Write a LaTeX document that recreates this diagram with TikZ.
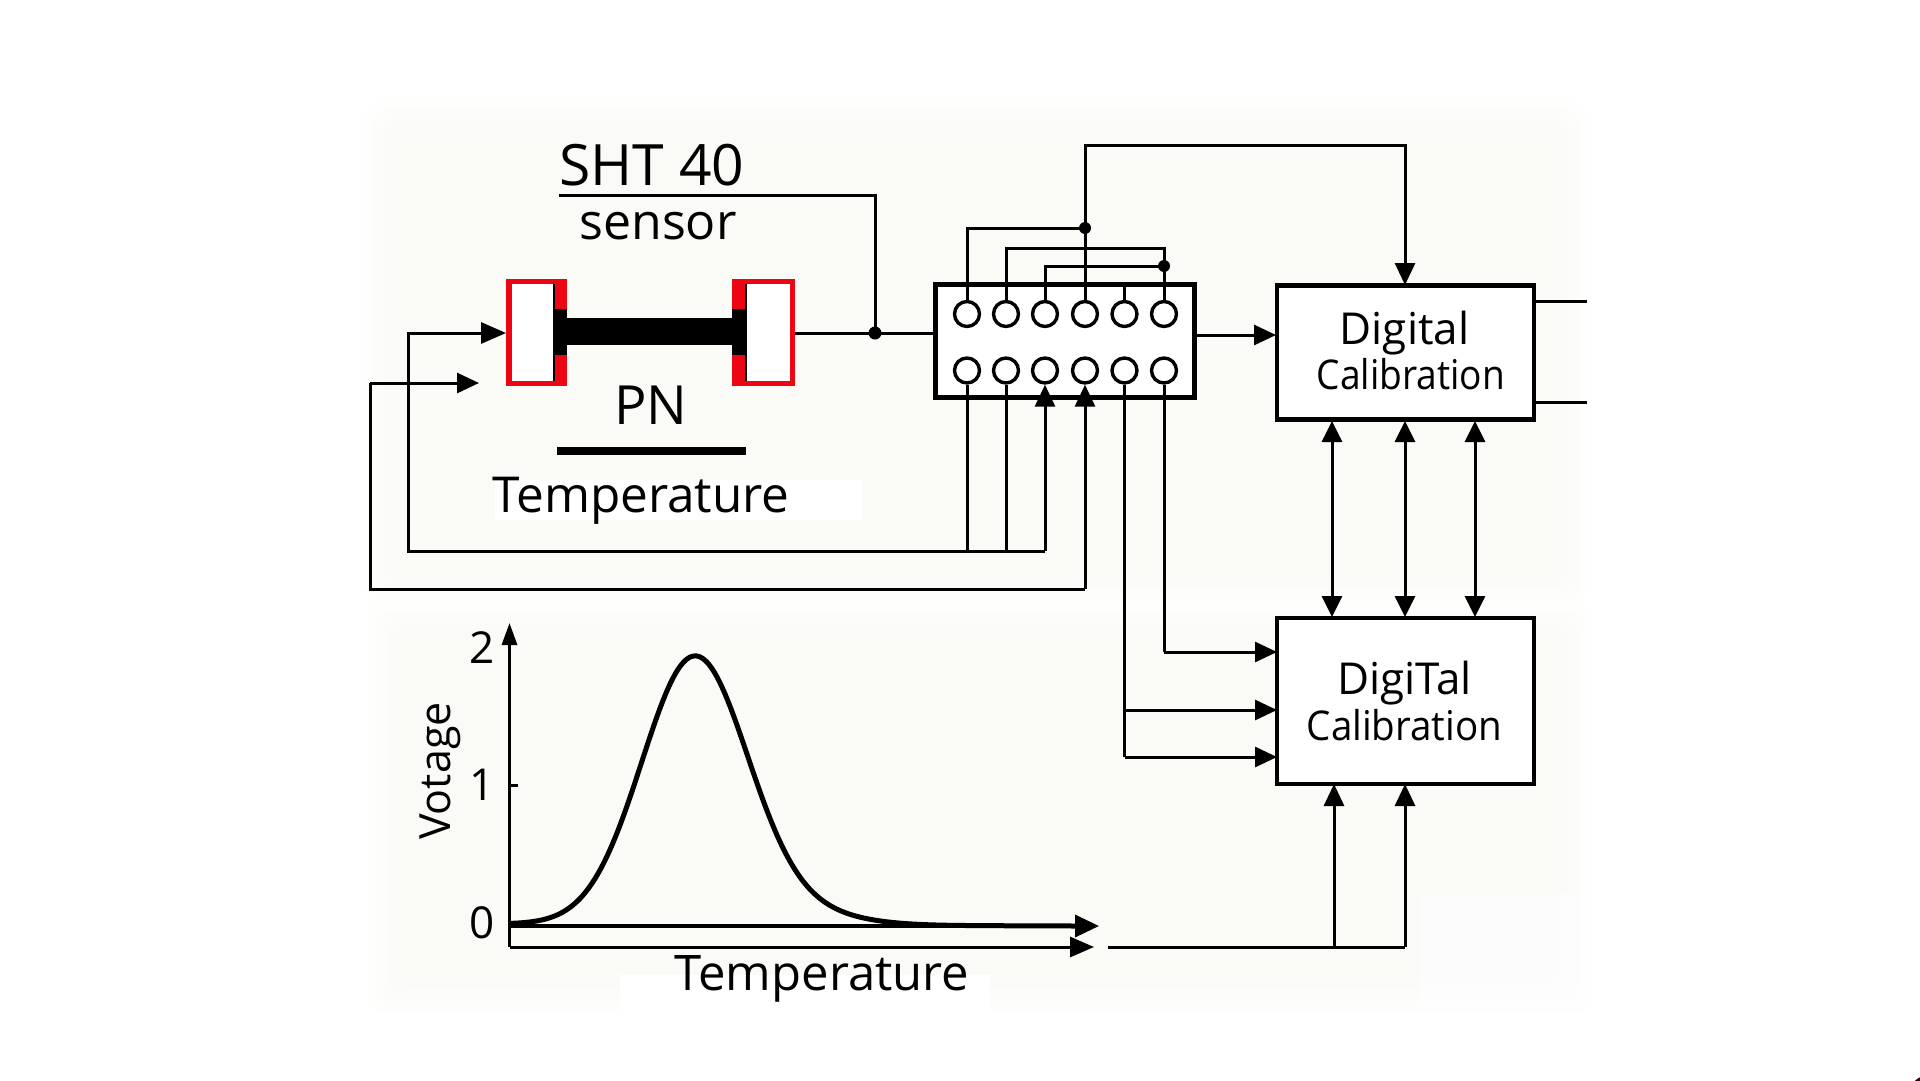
\documentclass[tikz,border=0pt]{standalone}
\usepackage{fontspec}
\usepackage{graphicx}
\setmainfont{Open Sans}
\usetikzlibrary{arrows.meta,calc}
\definecolor{sheet}{HTML}{F7F7F3}
\definecolor{padred}{HTML}{EC0512}
\tikzset{
  wire/.style={line width=3pt,black,line join=miter},
  arrowwire/.style={wire,-{Triangle[length=22pt,width=20pt]}},
  twoway/.style={wire,{Triangle[length=21pt,width=20pt]}-{Triangle[length=21pt,width=20pt]}},
  chipbox/.style={draw,line width=4.2pt,fill=white,inner sep=0pt,outer sep=0pt,rectangle},
  pin/.style={draw,line width=3.4pt,circle,fill=white,minimum size=25pt,inner sep=0pt,outer sep=1.7pt},
  junction/.style={circle,fill=black,minimum size=13pt,inner sep=0pt},
  label/.style={anchor=base,inner sep=0pt,text=black},
  padbox/.style={rectangle,fill=padred,inner sep=0pt,outer sep=0pt,minimum height=107pt}
}
\newcommand{\txt}[1]{\fontsize{#1}{#1}\selectfont}
\begin{document}
\begin{tikzpicture}[x=1pt,y=-1pt]
\useasboundingbox (0,0) rectangle (1920,1080);
% faint paper panels with soft edges
\foreach \i in {0,...,5}{
  \fill[sheet,opacity=0.16,rounded corners=12pt] ({366+6*\i},{102+6*\i}) rectangle ({1586-6*\i},{606-6*\i});
  \fill[sheet,opacity=0.16,rounded corners=12pt] ({370+6*\i},{606+6*\i}) rectangle ({1592-6*\i},{1012-6*\i});
}
\fill[white] (495,480) rectangle (862,520);
\fill[white] (620,975) rectangle (990,1012);
\fill[white,opacity=0.6] (1420,895) rectangle (1590,1012);
% corner mark
\fill[black!75!red] (1926,1091) circle (15);

% sensor pads
\node[padbox,minimum width=61pt] (padL) at (536.5,332.5) {};
\node[padbox,minimum width=63pt] (padR) at (763.5,332.5) {};
\fill[white] (511.5,283.5) rectangle (554,381);
\fill[white] (746,283.5) rectangle (789.5,381);
\fill[black] (554,309) rectangle (567,355);
\fill[black] (732,309) rectangle (746,355);
\fill[black] (567,318) rectangle (732,345);
\draw[line width=1.5pt] (554,284) -- (554,381) (746,284) -- (746,381);

% chip and calibration blocks
\node[chipbox,minimum width=259pt,minimum height=113pt] (chip) at (1065,341) {};
\node[chipbox,minimum width=257pt,minimum height=134pt] (calA) at (1405.5,352.5) {};
\node[chipbox,minimum width=257pt,minimum height=166pt] (calB) at (1405.5,701) {};

% pins
\foreach \n/\x in {1/967,2/1006,3/1045,4/1085,5/1124.5,6/1164}{
  \node[pin] (t\n) at (\x,314) {};
  \node[pin] (b\n) at (\x,370.5) {};
}

% named points
\coordinate (dotS) at (875,333);
\coordinate (dotA) at (1085,228);
\coordinate (dotB) at (1164,266);
\coordinate (shtL) at (559,195);
\coordinate (shtR) at (875,195);
\coordinate (topL) at (1085,145);
\coordinate (topR) at (1405,145);
\coordinate (inA) at (408,333);
\coordinate (inAe) at (408,551);
\coordinate (inB) at (370,383);
\coordinate (inBe) at (370,589);
\coordinate (tipB) at (479,383);
\coordinate (busA) at (1045,551);
\coordinate (busB) at (1085,589);
\coordinate (calTop) at (1405,285);
\coordinate (chipOut) at (1194.5,335);
\coordinate (calIn) at (1276,335);
\coordinate (stubA) at (1534,301);
\coordinate (stubAe) at (1587,301);
\coordinate (stubB) at (1534,402);
\coordinate (stubBe) at (1587,402);

% sensor wiring
\draw[wire] (shtL) -- (shtR) -- (dotS);
\draw[wire] (padR.east |- dotS) -- (dotS) -- (chip.west |- dotS);
\node[junction] at (dotS) {};
\draw[wire,-{Triangle[length=25pt,width=21pt]}] (busA) -- (inAe) -- (inA) -- (padL.west |- inA);
\draw[wire] (busB) -- (inBe) -- (inB);
\draw[arrowwire] (inB) -- (tipB);

% above chip
\draw[wire] (t1.north) |- (dotA);
\draw[wire] (t2.north) |- (1164,248) -- (t6.north);
\draw[wire] (t3.north) |- (dotB);
\draw[wire] (t4.north) -- (topL) -- (topR) -- ($(topR)+(0,70)$);
\draw[arrowwire] ($(topR)+(0,60)$) -- (calTop);
\draw[wire] (t5.north) -- (t5.north |- chip.north);
\node[junction,minimum size=12pt] at (dotA) {};
\node[junction,minimum size=12pt] at (dotB) {};

% below chip
\draw[wire] (b1.south) -- (b1.south |- busA);
\draw[wire] (b2.south) -- (b2.south |- busA);
\draw[wire] (busA) -- (busA -| b3.south);
\draw[arrowwire] (busA) -- (b3.south);
\draw[arrowwire] (busB) -- (b4.south);
\draw[wire] (b5.south) -- (1124.5,757);
\draw[wire] (b6.south) -- (1164,652);

% chip to calibration
\draw[arrowwire] (chipOut) -- (calIn);
\draw[wire] (stubA) -- (stubAe);
\draw[wire] (stubB) -- (stubBe);

% between calibration blocks
\foreach \x in {1332,1405,1475}{
  \draw[twoway] (\x,421) -- (\x,617);
}

% inputs of lower block
\draw[arrowwire] (1164,652) -- (calB.west |- 0,652);
\draw[arrowwire] (1124.5,710) -- (calB.west |- 0,710);
\draw[arrowwire] (1124.5,757) -- (calB.west |- 0,757);
\coordinate (feed) at (1108,947);
\coordinate (feedA) at (1334,947);
\coordinate (feedB) at (1405,947);
\draw[wire] (feed) -- (feedB);
\draw[arrowwire] (feedA) -- (feedA |- calB.south);
\draw[arrowwire] (feedB) -- (feedB |- calB.south);

% chart
\coordinate (origin) at (509.5,947);
\draw[wire,-{Triangle[length=22pt,width=15pt]}] (origin) -- (509.5,623);
\draw[wire,-{Triangle[length=24pt,width=20pt]}] (origin) -- (1094,947);
\draw[line width=3.6pt,-{Triangle[length=24pt,width=22pt]}] (509.5,926) -- (1099,926);
\draw[wire] (509.5,785) -- (518,785);
\draw[line width=5pt,line join=round]
  plot[domain=509.5:1075,samples=180,smooth] (\x,{924-267*exp(-0.5*pow((\x-694.6)/53,2))-11*exp(-0.5*pow((\x-800)/55,2))+2*(\x-509.5)/565});

% labels
\node[label,font=\txt{57}] (sht) at (652,185) {SHT 40};
\node[label,font=\txt{50}] (sensor) at (658,239) {sensor};
\node[label,font=\txt{54}] (pn) at (651,424) {PN};
\fill (557,447) rectangle (746,455);
\node[label,font=\txt{49.5}] (temp) at (641,512) {Temperature};
\node[label,font=\txt{44}] (dig1) at (1404.5,344) {Digital};
\node[label,font=\txt{41}] (cal1) at (1411,389) {\scalebox{0.905}[1]{Calibration}};
\node[label,font=\txt{44}] (dig2) at (1404.5,694) {DigiTal};
\node[label,font=\txt{41}] (cal2) at (1404.5,740) {\scalebox{0.94}[1]{Calibration}};
\node[anchor=center,inner sep=0pt,font=\txt{44}] (y2) at (482,648) {2};
\node[anchor=center,inner sep=0pt,font=\txt{44}] (y1) at (482,785) {1};
\node[anchor=center,inner sep=0pt,font=\txt{44}] (y0) at (482,923) {0};
\node[inner sep=0pt,font=\txt{43},rotate=90,anchor=center] (ylab) at (440,771) {Votage};
\node[label,font=\txt{49}] (temp2) at (822,990) {Temperature};
\end{tikzpicture}
\end{document}
